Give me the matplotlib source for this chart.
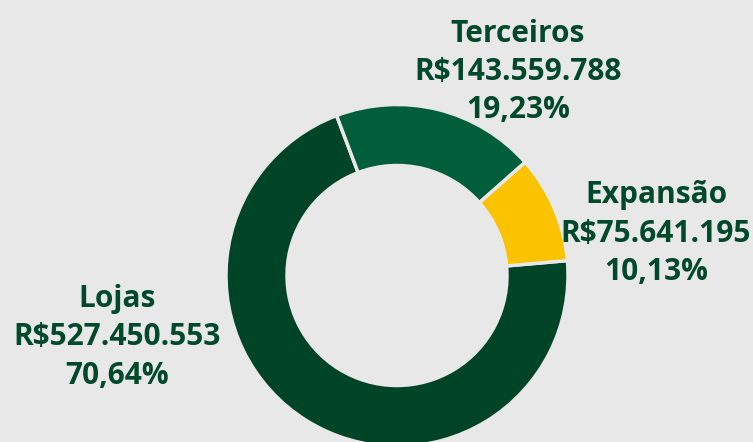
import matplotlib
matplotlib.use('Agg')
import matplotlib.pyplot as plt

# dados
categorias = ['Lojas', 'Terceiros', 'Expansão']
valores = [527450553, 143559788, 75641195]
cores = ['#004428', '#015e3b', '#fbc200']

fundo = '#e8e8e8'
cor_texto = '#00492a'

W, H = 753, 442
fig = plt.figure(figsize=(W / 100, H / 100), dpi=100, facecolor=fundo)
ax = fig.add_axes([0, 0, 1, 1])
ax.set_facecolor(fundo)

# rosca (coordenadas em pixels, y invertido no fim)
cx, cy, raio = 397, H - 275.5, 171
ax.pie(valores, colors=cores, startangle=5, counterclock=False,
       center=(cx, cy), radius=raio, frame=True,
       wedgeprops=dict(width=61, edgecolor=fundo, linewidth=2.5))

ax.set_xlim(0, W)
ax.set_ylim(0, H)
ax.set_aspect('equal')
ax.axis('off')

total = sum(valores)

def fmt_real(v):
    return 'R$' + f'{v:,}'.replace(',', '.')

def fmt_pct(v):
    return f'{100 * v / total:.2f}'.replace('.', ',') + '%'

# posição dos rótulos: (x central, linha de base da primeira linha)
posicoes = {'Lojas': (117, 306.5), 'Terceiros': (518, 41.5), 'Expansão': (656, 203)}
for cat, v in zip(categorias, valores):
    x, y0 = posicoes[cat]
    linhas = [cat, fmt_real(v), fmt_pct(v)]
    for i, t in enumerate(linhas):
        ax.text(x, H - (y0 + i * 38.5), t, ha='center', va='baseline',
                fontsize=21.5, fontweight='bold', family='Open Sans',
                color=cor_texto)

fig.savefig('out.png', dpi=100, facecolor=fundo)
